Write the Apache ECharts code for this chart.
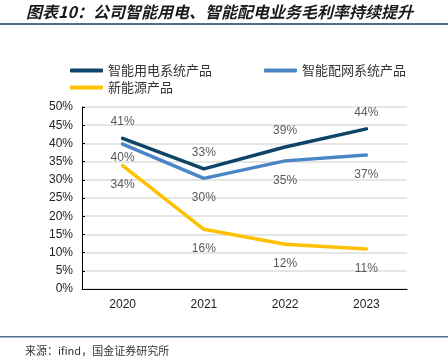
<!DOCTYPE html>
<html><head><meta charset="utf-8">
<script src="https://cdn.jsdelivr.net/npm/echarts@6/dist/echarts.min.js"></script>
<style>html,body{margin:0;padding:0;background:#fff}#c{width:448px;height:360px}</style>
</head><body><div id="c"></div>
<script>
const categories = ['2020', '2021', '2022', '2023'];
const seriesNames = ['智能用电系统产品', '智能配网系统产品', '新能源产品'];
const smartPower = [41.4, 33.0, 39.0, 44.0];
const smartGrid = [39.8, 30.4, 35.2, 36.8];
const newEnergy = [33.9, 16.4, 12.3, 11.0];
const yTicks = [0, 5, 10, 15, 20, 25, 30, 35, 40, 45, 50];
const titleText = '图表10：公司智能用电、智能配电业务毛利率持续提升';
const sourceText = '来源：ifind，国金证券研究所';

const colors = ['#0e4468', '#4a86c5', '#ffc000'];
const values = [smartPower, smartGrid, newEnergy];
const labelPos = ['top', 'bottom', 'bottom'];
const labelDist = [10, 13, 13];
const cjk = '"Noto Sans CJK SC", "Liberation Sans", sans-serif';

const chart = echarts.init(document.getElementById('c'));
chart.setOption({
  animation: false,
  graphic: [
    {type: 'text', left: 26, top: 4, style: {text: titleText, font: 'italic bold 16px ' + cjk, fill: '#1a1a1a'}},
    {type: 'rect', shape: {x: 0, y: 23, width: 448, height: 2}, style: {fill: '#4f6f8f'}},
    {type: 'rect', shape: {x: 0, y: 336, width: 448, height: 1.5}, style: {fill: '#4f6f8f'}},
    {type: 'text', left: 25, top: 345, style: {text: sourceText, font: '11px ' + cjk, fill: '#333'}}
  ],
  legend: [0, 1, 2].map(i => ({
    data: [seriesNames[i]],
    left: [65, 259, 65][i],
    top: [59, 59, 76][i],
    icon: 'roundRect',
    itemWidth: 33,
    itemHeight: 4,
    itemGap: 5,
    textStyle: {fontFamily: cjk, fontSize: 13, color: '#333'}
  })),
  grid: {left: 82, right: 41, top: 107, bottom: 71},
  xAxis: {
    type: 'category',
    data: categories,
    boundaryGap: true,
    axisLine: {lineStyle: {color: '#000', width: 1}},
    axisTick: {inside: true, length: 4, lineStyle: {color: '#000'}},
    axisLabel: {color: '#222', fontSize: 12, fontFamily: 'Liberation Sans, Arial', margin: 10}
  },
  yAxis: {
    type: 'value',
    min: 0, max: 50, interval: 5,
    axisLine: {show: true, lineStyle: {color: '#000', width: 1}},
    axisTick: {show: true, inside: true, length: 3, lineStyle: {color: '#000'}},
    splitLine: {lineStyle: {color: '#dcdcdc', width: 1.5}},
    axisLabel: {color: '#222', fontSize: 12, fontFamily: 'Liberation Sans, Arial', margin: 9,
      formatter: v => yTicks.includes(v) ? v + '%' : ''}
  },
  series: [0, 1, 2].map(i => ({
    name: seriesNames[i],
    type: 'line',
    data: values[i].map((v, j) => (i === 1 && j === 0) ? {value: v, label: {distance: 7}} : v),
    showSymbol: true,
    symbol: 'circle',
    symbolSize: 1,
    lineStyle: {color: colors[i], width: 3.5, cap: 'round', join: 'round'},
    itemStyle: {color: colors[i]},
    label: {show: true, position: labelPos[i], distance: labelDist[i], color: '#595959', fontSize: 12,
      fontFamily: 'Liberation Sans, Arial', formatter: p => Math.round(p.value) + '%'}
  }))
});
</script></body></html>
